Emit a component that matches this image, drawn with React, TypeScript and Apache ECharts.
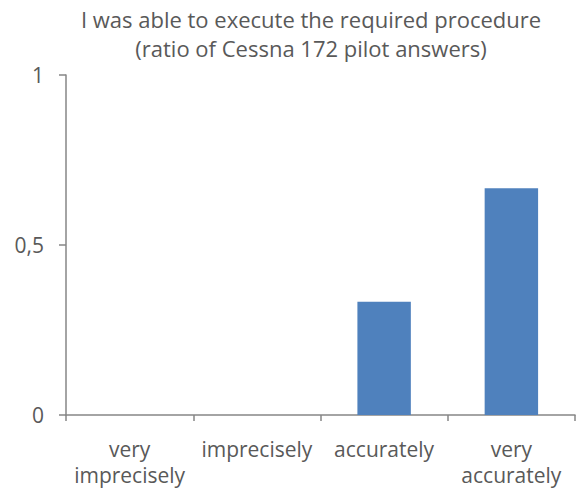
import React, { useEffect, useRef } from "react";
import * as echarts from "echarts";

const categories = ["very\nimprecisely", "imprecisely", "accurately", "very\naccurately"];
const ratios = [0, 0, 0.333, 0.667];
const titleLines = ["I was able to execute the required procedure", "(ratio of Cessna 172 pilot answers)"];

const FONT = "'Open Sans', sans-serif";
const TEXT = "#595959";
const AXIS = "#868686";

export default function App() {
  const ref = useRef<HTMLDivElement>(null);

  useEffect(() => {
    if (!ref.current) return;
    const chart = echarts.init(ref.current, null, { renderer: "svg" });
    chart.setOption({
      animation: false,
      backgroundColor: "#ffffff",
      title: {
        text: titleLines.join("\n"),
        left: 306,
        textAlign: "center",
        top: -1,
        textStyle: {
          fontFamily: FONT,
          fontSize: 22,
          fontWeight: "normal",
          color: TEXT,
          lineHeight: 29,
        },
      },
      grid: { left: 66, right: 3, top: 75, bottom: 76 },
      xAxis: {
        type: "category",
        data: categories,
        axisLine: { lineStyle: { color: AXIS, width: 1.5 } },
        axisTick: { show: true, length: 6, lineStyle: { color: AXIS, width: 1.5 } },
        axisLabel: {
          color: TEXT,
          fontFamily: FONT,
          fontSize: 21,
          lineHeight: 26,
          margin: 21,
          interval: 0,
        },
      },
      yAxis: {
        type: "value",
        min: 0,
        max: 1,
        interval: 0.5,
        splitLine: { show: false },
        axisLine: { show: true, lineStyle: { color: AXIS, width: 1.5 } },
        axisTick: { show: true, length: 7, lineStyle: { color: AXIS, width: 1.5 } },
        axisLabel: {
          color: TEXT,
          fontFamily: FONT,
          fontSize: 21,
          margin: 22,
          formatter: (v: number) => String(v).replace(".", ","),
        },
      },
      series: [
        {
          type: "bar",
          data: ratios,
          barWidth: "42%",
          itemStyle: { color: "#4F81BD" },
        },
      ],
    });
    return () => chart.dispose();
  }, []);

  return <div ref={ref} style={{ width: 578, height: 491, position: "fixed", left: 0, top: 0 }} />;
}
